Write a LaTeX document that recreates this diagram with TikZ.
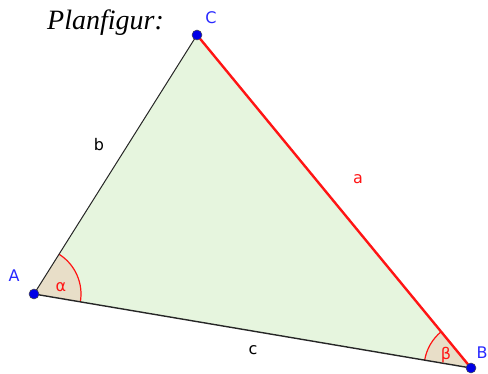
\documentclass[tikz,border=0pt]{standalone}
\usepackage{fontspec}
\setmainfont{Liberation Serif}
\newfontfamily\lblfont{DejaVu Sans}
\usetikzlibrary{angles}
\definecolor{triFill}{RGB}{230,245,222}
\definecolor{angFill}{RGB}{232,222,200}
\definecolor{ptBlue}{RGB}{0,0,230}
\definecolor{lblBlue}{RGB}{40,40,255}
\definecolor{lblRed}{RGB}{255,20,20}
\tikzset{
  pt/.style={circle, fill=ptBlue, draw=black!70, line width=0.5pt, inner sep=0pt, minimum size=10pt},
  lbl/.style={font=\lblfont\fontsize{16}{16}\selectfont, inner sep=0pt},
  ptlbl/.style={lbl, text=lblBlue},
  anglearc/.style={draw=lblRed, line width=1.2pt, fill=angFill, angle radius=47pt},
}
\begin{document}
\begin{tikzpicture}[x=1pt,y=-1pt]
\useasboundingbox (0,0) rectangle (488,374);
\coordinate (A) at (34,294);
\coordinate (B) at (471,368);
\coordinate (C) at (197,35);
\fill[triFill] (A) -- (B) -- (C) -- cycle;
\pic[anglearc] {angle = B--A--C};
\pic[anglearc] {angle = C--B--A};
\draw[black!85, line width=1pt] (A) -- (C);
\draw[black!85, line width=1.4pt] (A) -- (B);
\draw[lblRed, line width=2.4pt] (C) -- (B);
\node[pt] (pA) at (A) {};
\node[pt] (pB) at (B) {};
\node[pt] (pC) at (C) {};
\node[ptlbl] (lA) at (14,276) {A};
\node[ptlbl] (lB) at (482,353) {B};
\node[ptlbl] (lC) at (211,18) {C};
\node[lbl] (lb) at (99,145) {b};
\node[lbl, text=lblRed] (la) at (358,179) {a};
\node[lbl] (lc) at (253,350) {c};
\node[lbl, text=lblRed] (lal) at (61,287) {α};
\node[lbl, text=lblRed] (lbe) at (446,355) {β};
\node[anchor=base west, inner sep=0pt, font=\fontsize{28}{28}\selectfont\itshape] (title) at (47,29.5) {Planfigur:};
\end{tikzpicture}
\end{document}
